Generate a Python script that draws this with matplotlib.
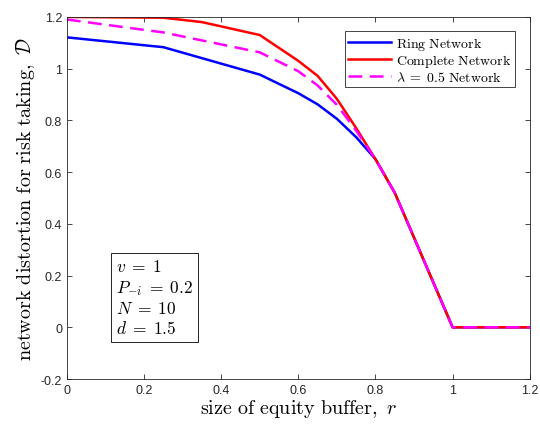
import matplotlib
matplotlib.use("Agg")
import matplotlib.pyplot as plt

plt.rcParams['mathtext.fontset'] = 'cm'
plt.rcParams['font.family'] = 'Liberation Sans'

r_ring = [0, 0.25, 0.5, 0.6, 0.65, 0.7, 0.75, 0.8, 0.85, 1.0, 1.2]
d_ring = [1.121, 1.083, 0.977, 0.905, 0.862, 0.806, 0.735, 0.65, 0.52, 0.0, 0.0]

r_complete = [0, 0.25, 0.35, 0.5, 0.6, 0.65, 0.7, 0.75, 0.8, 0.85, 1.0, 1.2]
d_complete = [1.2, 1.197, 1.18, 1.13, 1.03, 0.972, 0.883, 0.77, 0.65, 0.52, 0.0, 0.0]

r_half = [0, 0.25, 0.5, 0.6, 0.65, 0.7, 0.75, 0.8, 0.85, 1.0, 1.2]
d_half = [1.19, 1.14, 1.063, 0.99, 0.935, 0.86, 0.76, 0.65, 0.52, 0.0, 0.0]

fig = plt.figure(figsize=(5.4, 4.27), dpi=100)
ax = fig.add_axes([0.124, 0.110, 0.857, 0.848])

ax.plot(r_ring, d_ring, color='#0000ff', lw=1.8, label=r'$\mathrm{Ring\ Network}$')
ax.plot(r_complete, d_complete, color='#ff0000', lw=1.8,
        label=r'$\mathrm{Complete\ Network}$')
ax.plot(r_half, d_half, color='#ff00ff', lw=1.8, ls=(0, (5.5, 3)),
        label=r'$\lambda\;=\;0.5\ \mathrm{Network}$')

ax.set_xlim(0, 1.2)
ax.set_ylim(-0.2, 1.2)
ax.set_xticks([0, 0.2, 0.4, 0.6, 0.8, 1, 1.2])
ax.set_xticklabels(['0', '0.2', '0.4', '0.6', '0.8', '1', '1.2'])
ax.set_yticks([-0.2, 0, 0.2, 0.4, 0.6, 0.8, 1, 1.2])
ax.set_yticklabels(['-0.2', '0', '0.2', '0.4', '0.6', '0.8', '1', '1.2'])
ax.tick_params(direction='in', top=True, right=True, labelsize=9,
               colors='#262626', length=3.5, width=0.6)
for s in ax.spines.values():
    s.set_color('#262626')
    s.set_linewidth(0.6)

ax.set_xlabel(r'$\mathrm{size\ of\ equity\ buffer,}\ r$', fontsize=14.5, labelpad=1)
ax.set_ylabel(r'$\mathrm{network\ distortion\ for\ risk\ taking,}\ \mathcal{D}$',
              fontsize=14.5, labelpad=3)

leg = ax.legend(loc='upper right', bbox_to_anchor=(0.968, 0.961),
                prop={'size': 10},
                fancybox=False, edgecolor='#262626', framealpha=1,
                borderpad=0.25, labelspacing=0.05, handlelength=3.1,
                handletextpad=0.35, borderaxespad=0)
leg.get_frame().set_linewidth(0.6)

ax.text(0.106, 0.118, '$v\\;=\\;1$\n$P_{-i}\\;=\\;0.2$\n$N\\;=\\;10$\n$d\\;=\\;1.5$',
        transform=ax.transAxes, fontsize=12.5, va='bottom', ha='left',
        linespacing=1.25,
        bbox=dict(boxstyle='square,pad=0.3', fc='white', ec='black', lw=0.6))

fig.savefig('out.png', dpi=100)
